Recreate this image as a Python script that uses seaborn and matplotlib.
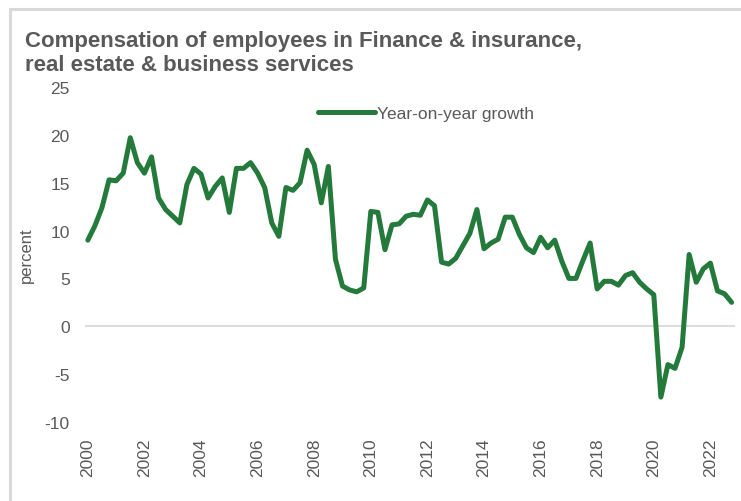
import pandas as pd
import seaborn as sns
import matplotlib.pyplot as plt
from matplotlib.patches import Rectangle

# Quarterly year-on-year growth, 2000 Q1 - 2022 Q4 (percent)
years = list(range(2000, 2023))
quarters = [y + q / 4 for y in years for q in range(4)]
growth = [
    9.0, 10.5, 12.4, 15.3, 15.2, 16.0, 19.7, 17.1,
    16.0, 17.7, 13.4, 12.2, 11.5, 10.8, 14.8, 16.5,
    15.9, 13.4, 14.6, 15.5, 11.9, 16.5, 16.5, 17.1,
    16.0, 14.5, 10.8, 9.4, 14.5, 14.2, 15.0, 18.4,
    16.9, 12.9, 16.7, 7.0, 4.2, 3.8, 3.6, 4.0,
    12.0, 11.9, 8.0, 10.6, 10.7, 11.5, 11.7, 11.6,
    13.2, 12.6, 6.7, 6.5, 7.1, 8.4, 9.7, 12.2,
    8.1, 8.7, 9.1, 11.4, 11.4, 9.6, 8.2, 7.7,
    9.3, 8.2, 9.0, 6.8, 5.0, 5.0, 6.9, 8.7,
    3.9, 4.7, 4.7, 4.3, 5.3, 5.6, 4.6, 3.9,
    3.3, -7.4, -4.0, -4.4, -2.2, 7.5, 4.6, 6.0,
    6.6, 3.7, 3.4, 2.5,
]
tick_years = years[::2]
series_name = "Year-on-year growth"

title = "Compensation of employees in Finance & insurance,\nreal estate & business services"
line_color = "#237a3b"
text_color = "#595959"

df = pd.DataFrame({"quarter": quarters, "growth": growth, "series": series_name})

sns.set_style("white")
plt.rcParams['font.family'] = ['Liberation Sans', 'DejaVu Sans']
plt.rcParams['axes.unicode_minus'] = False

fig = plt.figure(figsize=(7.41, 5.02), dpi=100)
ax = fig.add_axes([85 / 741, 1 - 423 / 502, 650 / 741, 335 / 502])

# light grey frame round the chart area
fig.patches.append(Rectangle((10 / 741, -0.1), 1.2, 1 - 10 / 502 + 0.1,
                             transform=fig.transFigure, fill=False,
                             edgecolor="#d9d9d9", linewidth=2.2, zorder=0))

# zero line acts as the category axis
ax.axhline(0, color="#d9d9d9", linewidth=1.3, zorder=1)

sns.lineplot(data=df, x="quarter", y="growth", hue="series",
             palette=[line_color], linewidth=3.6, ax=ax, zorder=3)

ax.set_xlim(2000 - 0.1, 2022.75 + 0.12)
ax.set_ylim(-10, 25)
ax.set_yticks(range(-10, 26, 5))
ax.set_xticks(tick_years)
ax.set_xticklabels([str(y) for y in tick_years], rotation=90)
ax.tick_params(axis="y", length=0, pad=11, labelsize=12.5, labelcolor=text_color)
ax.tick_params(axis="x", length=0, pad=11, labelsize=12.5, labelcolor=text_color)
for s in ax.spines.values():
    s.set_visible(False)

ax.set_xlabel("")
ax.set_ylabel("percent", fontsize=12, color=text_color)
ax.yaxis.set_label_coords(-0.078, 0.5)

leg = ax.legend(loc="center left", bbox_to_anchor=(0.358, 0.922), frameon=False,
                handlelength=3.3, handletextpad=0.1, borderpad=0,
                borderaxespad=0, fontsize=12.5)
for t in leg.get_texts():
    t.set_color(text_color)
for h in leg.get_lines():
    h.set_linewidth(3.6)

fig.text(25 / 741, 1 - 31 / 502, title, fontsize=16, fontweight="bold",
         color=text_color, ha="left", va="top", linespacing=1.2)

plt.savefig("out.png", dpi=100)
